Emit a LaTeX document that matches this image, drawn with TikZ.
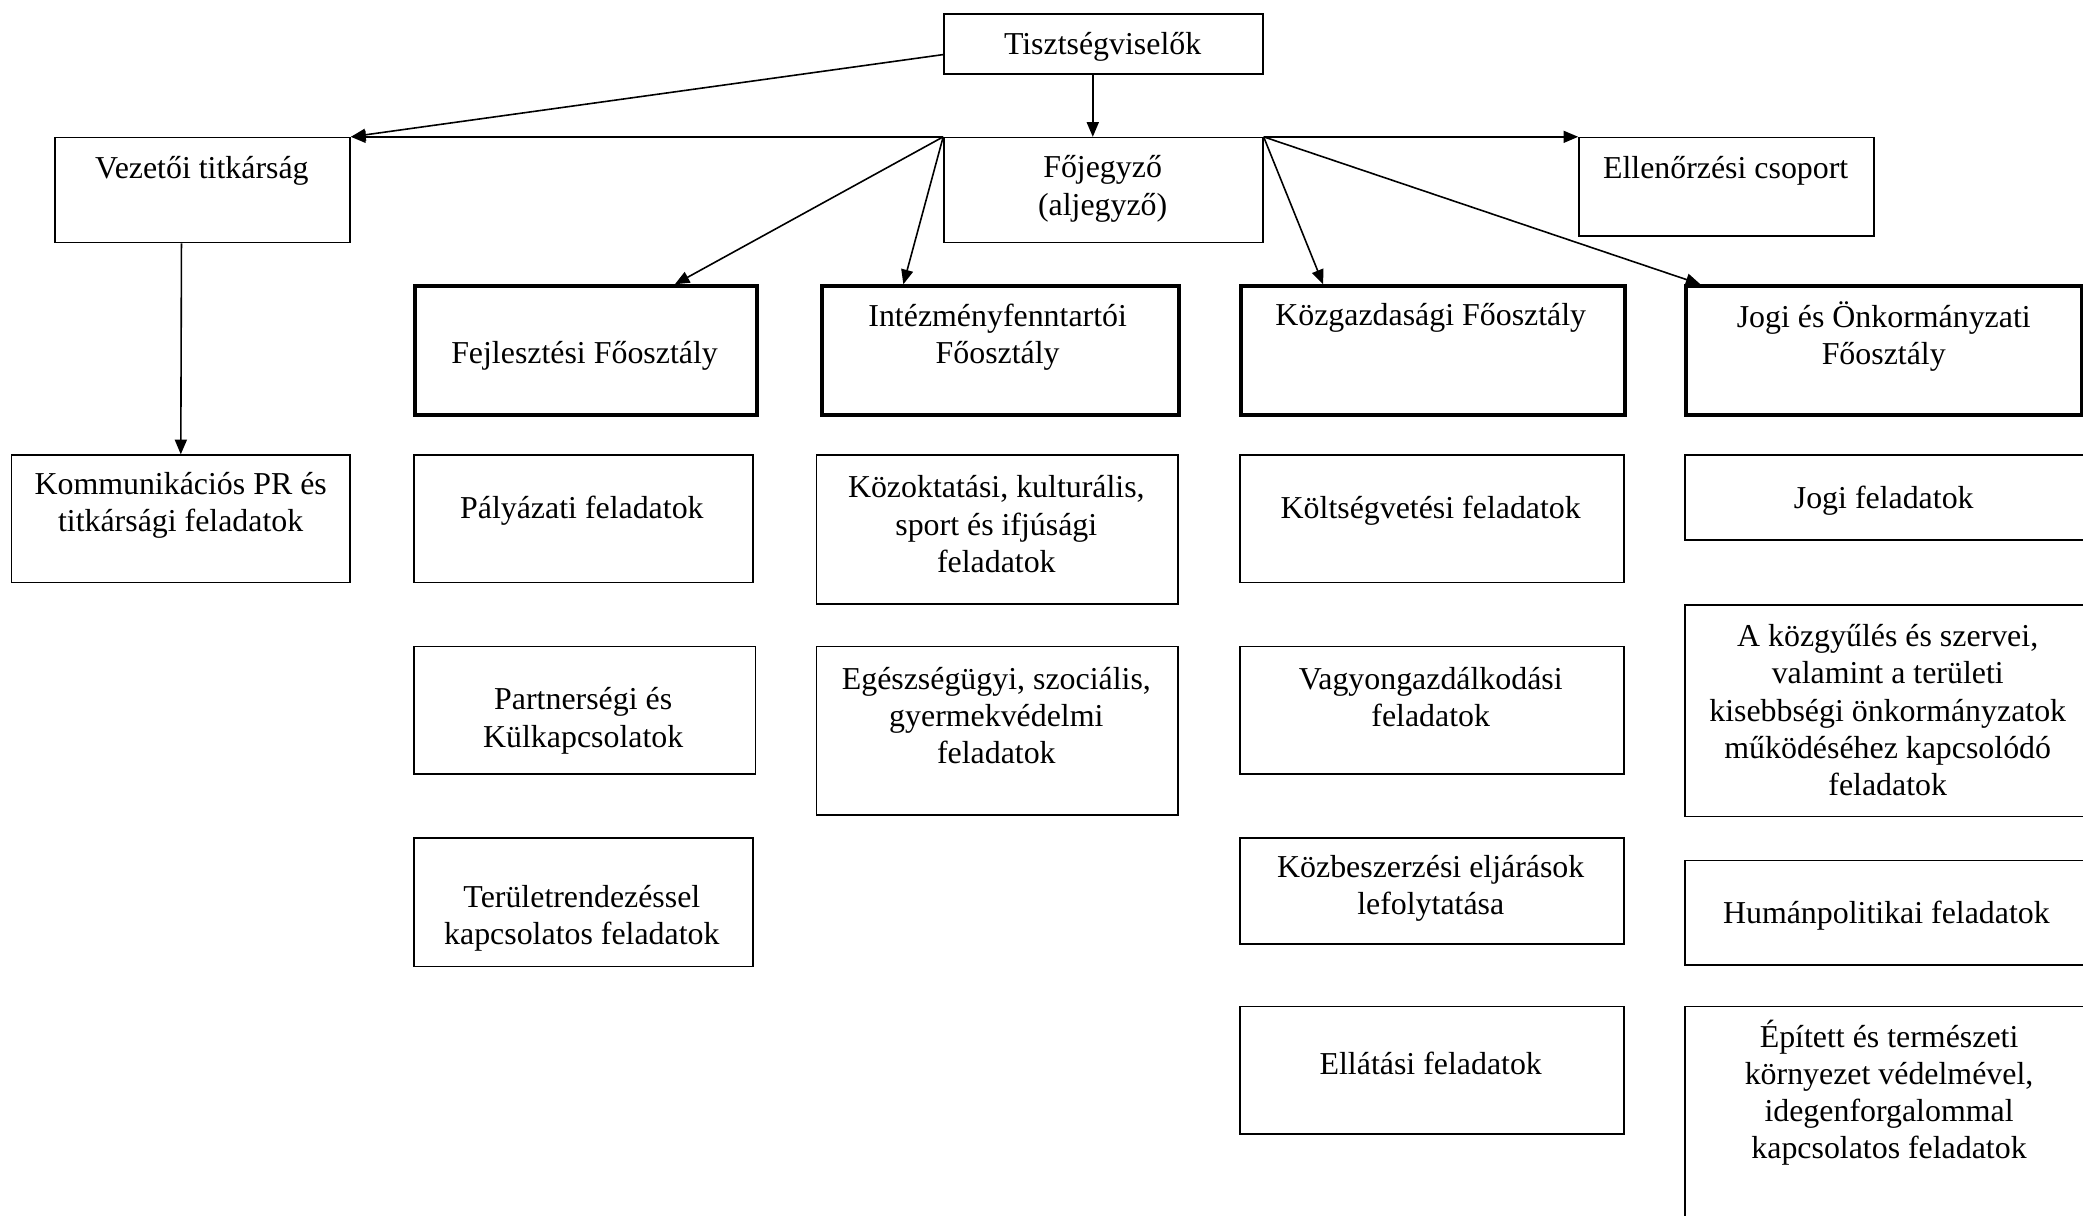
\documentclass[tikz,border=0pt]{standalone}
\usepackage{fontspec}
\setmainfont{Liberation Serif}
\usetikzlibrary{arrows.meta}
\begin{document}
\begin{tikzpicture}[x=0.5pt,y=-0.5pt,
  thinbox/.style={draw,line width=0.6pt,inner sep=0pt,anchor=north west},
  thickbox/.style={draw,line width=1.5pt,inner sep=0pt,anchor=north west},
  txt/.style={align=center,inner sep=0pt,yshift=-1.3pt,font=\fontsize{12}{14}\selectfont},
  conn/.style={line width=0.6pt,-{Triangle[length=5.5pt,width=4.5pt]}}]
\useasboundingbox[fill=white] (0,0) rectangle (1568,915);
% level 0
\node[thinbox,minimum width=120pt,minimum height=22.5pt] (tisz) at (710,10) {};
\node[txt] (tiszt) at (830,33) {Tisztségviselők};
% level 1
\node[thinbox,minimum width=111pt,minimum height=39.5pt] (vez) at (41,103) {};
\node[txt] (vezt) at (152,126) {Vezetői titkárság};
\node[thinbox,minimum width=120pt,minimum height=39.5pt] (fo) at (710,103) {};
\node[txt] (fot) at (830,139.5) {Főjegyző\\(aljegyző)};
\node[thinbox,minimum width=111pt,minimum height=37pt] (ell) at (1188,103) {};
\node[txt] (ellt) at (1299,126) {Ellenőrzési csoport};
% level 2 (thick)
\node[thickbox,minimum width=128.5pt,minimum height=48.5pt] (fejl) at (311,214) {};
\node[txt] (fejlt) at (440,265) {Fejlesztési Főosztály};
\node[thickbox,minimum width=134.5pt,minimum height=48.5pt] (int) at (617,214) {};
\node[txt] (intt) at (751,251) {Intézményfenntartói\\Főosztály};
\node[thickbox,minimum width=144.5pt,minimum height=48.5pt] (kozg) at (933,214) {};
\node[txt] (kozgt) at (1077,237) {Közgazdasági Főosztály};
\node[thickbox,minimum width=149pt,minimum height=48.5pt] (jogif) at (1268,214) {};
\node[txt] (jogift) at (1418,251) {Jogi és Önkormányzati\\Főosztály};
% row 3
\node[thinbox,minimum width=127.5pt,minimum height=48pt] (komm) at (8,342) {};
\node[txt] (kommt) at (136,378) {Kommunikációs PR és\\titkársági feladatok};
\node[thinbox,minimum width=127.5pt,minimum height=48pt] (paly) at (311,342) {};
\node[txt] (palyt) at (438,382) {Pályázati feladatok};
\node[thinbox,minimum width=136pt,minimum height=56pt] (kozo) at (614,342) {};
\node[txt] (kozot) at (750,392) {Közoktatási, kulturális,\\sport és ifjúsági\\feladatok};
\node[thinbox,minimum width=144.5pt,minimum height=48pt] (kolt) at (933,342) {};
\node[txt] (koltt) at (1077,382) {Költségvetési feladatok};
\node[thinbox,minimum width=161pt,minimum height=32pt] (jogi) at (1268,342) {};
\node[txt] (jogit) at (1418,374) {Jogi feladatok};
% row 4
\node[thinbox,minimum width=128.5pt,minimum height=48pt] (part) at (311,486) {};
\node[txt] (partt) at (439,540) {Partnerségi és\\Külkapcsolatok};
\node[thinbox,minimum width=136pt,minimum height=63.5pt] (eg) at (614,486) {};
\node[txt] (egt) at (750,536) {Egészségügyi, szociális,\\gyermekvédelmi\\feladatok};
\node[thinbox,minimum width=144.5pt,minimum height=48pt] (vagy) at (933,486) {};
\node[txt] (vagyt) at (1077,522) {Vagyongazdálkodási\\feladatok};
\node[thinbox,minimum width=161pt,minimum height=79.5pt] (kgy) at (1268,455) {};
\node[txt] (kgyt) at (1421,532) {A közgyűlés és szervei,\\valamint a területi\\kisebbségi önkormányzatok\\működéséhez kapcsolódó\\feladatok};
% row 5
\node[thinbox,minimum width=127.5pt,minimum height=48.5pt] (ter) at (311,630) {};
\node[txt] (tert) at (438,688.5) {Területrendezéssel\\kapcsolatos feladatok};
\node[thinbox,minimum width=144.5pt,minimum height=40pt] (kozb) at (933,630) {};
\node[txt] (kozbt) at (1077,666) {Közbeszerzési eljárások\\lefolytatása};
\node[thinbox,minimum width=161pt,minimum height=39.5pt] (hum) at (1268,647) {};
\node[txt] (humt) at (1420,687) {Humánpolitikai feladatok};
% row 6
\node[thinbox,minimum width=144.5pt,minimum height=48pt] (ella) at (933,757) {};
\node[txt] (ellat) at (1077,798) {Ellátási feladatok};
\node[thinbox,minimum width=161pt,minimum height=91.5pt] (epit) at (1268,757) {};
\node[txt] (epitt) at (1422,820) {Épített és természeti\\környezet védelmével,\\idegenforgalommal\\kapcsolatos feladatok};
% connectors
\draw[conn] ([yshift=-4pt]tisz.west) -- (vez.north east);
\draw[conn] (fo.north west) -- (vez.north east);
\draw[conn] ([xshift=-4pt]tisz.south) -- ([xshift=-4pt]fo.north);
\draw[conn] (fo.north east) -- (ell.north west);
\draw[conn] (fo.north west) -- ([xshift=98.5pt]fejl.north west);
\draw[conn] (fo.north west) -- ([xshift=31.5pt]int.north west);
\draw[conn] (fo.north east) -- ([xshift=31.5pt]kozg.north west);
\draw[conn] (fo.north east) -- ([xshift=6pt]jogif.north west);
\draw[conn] ([xshift=-8pt]vez.south) -- (komm.north);
\end{tikzpicture}
\end{document}
